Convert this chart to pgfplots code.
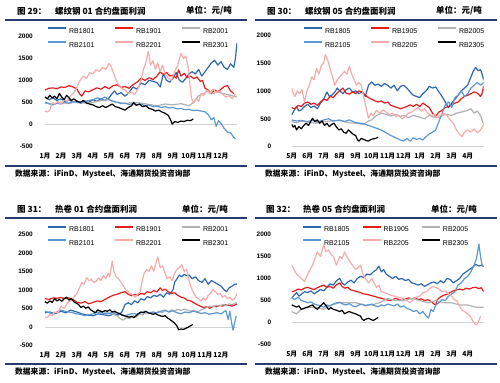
\documentclass[border=0pt]{standalone}
\usepackage{pgfplots}
\pgfplotsset{compat=1.18}
\usepackage{fontspec}
\setmainfont{Liberation Sans}
\newfontfamily\cjk{Noto Sans CJK SC}
\definecolor{cA}{RGB}{46,104,176}
\definecolor{cB}{RGB}{232,28,28}
\definecolor{cC}{RGB}{178,178,178}
\definecolor{cD}{RGB}{92,152,212}
\definecolor{cE}{RGB}{247,172,172}
\definecolor{cF}{RGB}{0,0,0}
\definecolor{navy}{RGB}{36,60,110}
\pgfplotsset{
  panel/.style={scale only axis, xmin=0, xmax=12, clip=true,
    axis line style={draw=none}, major tick length=0pt, xtick={0,...,11},
    yticklabel style={font=\fontsize{6.5}{7}\selectfont\bfseries, anchor=east, inner sep=0pt, xshift=-12bp},
    xticklabel style={font=\cjk\bfseries\fontsize{6.8}{7}\selectfont, anchor=base, inner sep=0pt, yshift=-12bp},
    legend columns=3,
    legend style={draw=none, fill=none, inner sep=0pt, font=\fontsize{7}{8}\selectfont, anchor=north west,
      row sep=6bp, nodes={inner sep=0pt},
      /tikz/every odd column/.style={column sep=2bp},
      /tikz/every even column/.style={column sep=19.7bp}},
    legend image code/.code={\draw[#1, line width=2bp] (0bp,0.35em) -- (18bp,0.35em);},
    every axis plot/.append style={line width=1.2bp, line join=round},
  },
  zero/.style={gray!35, line width=0.6bp, forget plot},
}
\newcommand{\ttl}{\cjk\bfseries\fontsize{8.5}{10}\selectfont}
\newcommand{\src}{\cjk\bfseries\fontsize{7.8}{9}\selectfont}
\begin{document}
\begin{tikzpicture}
\fill[white] (0,0) rectangle (500bp,-383bp);
\useasboundingbox (0,0) rectangle (500bp,-383bp);
% ---------- frames and titles ----------
\foreach \xo/\yo in {0/0, 250/0, 0/198, 250/198}{
  \draw[navy, line width=2bp] (\xo bp+5bp, -\yo bp-20bp) -- (\xo bp+247bp, -\yo bp-20bp);
  \draw[navy, line width=2bp] (\xo bp+5bp, -\yo bp-165.5bp) -- (\xo bp+247bp, -\yo bp-165.5bp);
  \node[anchor=west, inner sep=0pt] at (\xo bp+15bp, -\yo bp-173.5bp) {\src 数据来源：iFinD、Mysteel、海通期货投资咨询部};
}
\node[anchor=west, inner sep=0pt] at (17bp,-11bp) {\ttl 图 29：};
\node[anchor=west, inner sep=0pt] at (55bp,-11bp) {\ttl 螺纹钢 01 合约盘面利润};
\node[anchor=east, inner sep=0pt] at (232bp,-11bp) {\ttl 单位：元/吨};
\node[anchor=west, inner sep=0pt] at (267bp,-11bp) {\ttl 图 30：};
\node[anchor=west, inner sep=0pt] at (305bp,-11bp) {\ttl 螺纹钢 05 合约盘面利润};
\node[anchor=east, inner sep=0pt] at (482bp,-11bp) {\ttl 单位：元/吨};
\node[anchor=west, inner sep=0pt] at (17bp,-209.5bp) {\ttl 图 31：};
\node[anchor=west, inner sep=0pt] at (55bp,-209.5bp) {\ttl 热卷 01 合约盘面利润};
\node[anchor=east, inner sep=0pt] at (228bp,-209.5bp) {\ttl 单位：元/吨};
\node[anchor=west, inner sep=0pt] at (266bp,-209.5bp) {\ttl 图 32：};
\node[anchor=west, inner sep=0pt] at (303bp,-209.5bp) {\ttl 热卷 05 合约盘面利润};
\node[anchor=east, inner sep=0pt] at (477bp,-209.5bp) {\ttl 单位：元/吨};

% ---------- Panel 1 ----------
\begin{axis}[panel, at={(45bp,-146bp)}, anchor=south west, width=192bp, height=109.3bp,
  ymin=-500, ymax=2000, ytick={-500,0,500,1000,1500,2000}, yticklabels={-500,0,500,1000,1500,2000},
  xticklabels={1月,2月,3月,4月,5月,6月,7月,8月,9月,10月,11月,12月},
  legend style={at={(0.0104,1.0888)}}]
\addplot[zero] coordinates {(0,0) (12,0)};
\addplot[cA] coordinates {(0,620) (0.25,560) (0.5,600) (0.75,540) (1,580) (1.25,520) (1.5,560) (1.75,500) (2,530) (2.25,480) (2.5,520) (2.75,500) (3,560) (3.25,520) (3.5,580) (3.75,540) (4,600) (4.2,700) (4.35,760) (4.5,680) (4.75,720) (5,640) (5.25,720) (5.5,850) (5.75,800) (6,940) (6.25,900) (6.5,1000) (6.75,980) (7,950) (7.2,850) (7.4,1150) (7.6,1000) (7.8,960) (8,1050) (8.2,1180) (8.4,1000) (8.6,960) (8.8,1050) (9,1150) (9.2,1200) (9.4,1150) (9.6,1250) (9.8,1100) (10,1200) (10.2,1300) (10.4,1400) (10.6,1460) (10.8,1350) (11,1430) (11.2,1300) (11.4,1250) (11.6,1380) (11.8,1300) (11.9,1500) (12,1860)};
\addplot[cB] coordinates {(0,780) (0.25,820) (0.5,830) (0.75,810) (1,850) (1.25,840) (1.5,880) (1.75,850) (2,800) (2.15,700) (2.3,640) (2.5,760) (2.75,740) (3,790) (3.25,830) (3.5,800) (3.75,860) (4,810) (4.25,880) (4.5,900) (4.75,840) (5,860) (5.25,820) (5.5,900) (5.75,960) (6,1050) (6.25,1000) (6.5,1060) (6.75,1020) (7,1100) (7.2,1200) (7.4,1130) (7.6,1180) (7.8,1100) (8,1120) (8.2,1050) (8.35,1240) (8.5,1100) (8.7,1160) (8.9,1060) (9.1,1100) (9.3,1040) (9.5,1080) (9.7,980) (9.85,1000) (10,820) (10.2,780) (10.4,700) (10.6,780) (10.8,740) (11,800) (11.2,860) (11.4,880) (11.6,760) (11.8,700)};
\addplot[cC] coordinates {(0,480) (0.5,450) (1,500) (1.5,470) (2,520) (2.5,480) (3,500) (3.5,540) (4,560) (4.5,500) (5,470) (5.5,500) (6,480) (6.5,450) (7,420) (7.5,460) (8,440) (8.5,470) (9,420) (9.3,500) (9.6,650) (9.9,700) (10.2,760) (10.5,700) (10.8,740) (11.1,700) (11.4,680) (11.7,650) (12,620)};
\addplot[cD] coordinates {(0,500) (0.25,470) (0.5,440) (0.75,480) (1,460) (1.25,500) (1.5,480) (1.75,520) (2,500) (2.25,480) (2.5,520) (2.75,540) (3,560) (3.25,600) (3.5,580) (3.75,620) (4,560) (4.25,520) (4.5,500) (4.75,470) (5,480) (5.25,450) (5.5,470) (5.75,440) (6,460) (6.25,420) (6.5,440) (6.75,400) (7,410) (7.25,380) (7.5,400) (7.75,370) (8,380) (8.25,350) (8.5,360) (8.75,330) (9,340) (9.25,310) (9.5,320) (9.75,300) (10,280) (10.2,220) (10.4,100) (10.55,150) (10.7,-50) (10.85,80) (11,20) (11.2,-100) (11.4,-180) (11.6,-200) (11.8,-300) (11.9,-340)};
\addplot[cE] coordinates {(0,300) (0.15,280) (0.3,320) (0.45,500) (0.6,460) (0.8,520) (1,450) (1.2,560) (1.4,520) (1.6,650) (1.8,720) (2,850) (2.2,1010) (2.4,1100) (2.6,1050) (2.8,1180) (3,1150) (3.2,1250) (3.4,1200) (3.6,1300) (3.8,1250) (4,1390) (4.15,1300) (4.3,1150) (4.45,1000) (4.6,900) (4.8,820) (5,780) (5.2,700) (5.4,740) (5.6,680) (5.8,800) (6,1000) (6.15,1250) (6.3,1400) (6.45,1660) (6.6,1350) (6.75,1450) (6.9,1250) (7.05,1400) (7.2,1200) (7.35,1350) (7.5,1150) (7.7,1050) (7.9,1000) (8.1,1200) (8.3,1350) (8.5,1620) (8.65,1500) (8.8,1560) (8.95,1300) (9.05,950) (9.15,600) (9.3,480) (9.45,600) (9.6,520) (9.75,700) (9.9,650) (10.1,780) (10.3,700) (10.5,800) (10.7,720) (10.9,760) (11.1,680) (11.3,620) (11.5,650) (11.7,580) (11.9,700)};
\addplot[cF] coordinates {(0,620) (0.15,580) (0.3,660) (0.45,600) (0.6,640) (0.75,580) (0.9,700) (1.05,620) (1.2,560) (1.35,660) (1.5,600) (1.65,540) (1.8,580) (2,520) (2.2,500) (2.4,540) (2.6,480) (2.8,460) (3,440) (3.2,400) (3.4,380) (3.6,420) (3.8,380) (4,420) (4.2,460) (4.4,400) (4.6,380) (4.8,350) (5,320) (5.2,380) (5.4,420) (5.55,490) (5.7,430) (5.9,460) (6.1,400) (6.3,420) (6.5,360) (6.7,340) (6.9,300) (7.1,320) (7.3,280) (7.5,250) (7.7,200) (7.85,100) (7.95,0) (8.1,60) (8.3,40) (8.5,70) (8.7,60) (8.9,90) (9.1,80) (9.27,120)};
\legend{RB1801,RB1901,RB2001,RB2101,RB2201,RB2301}
\end{axis}

% ---------- Panel 2 ----------
\begin{axis}[panel, at={(291.7bp,-146.7bp)}, anchor=south west, width=192bp, height=111.7bp,
  ymin=0, ymax=2000, ytick={0,500,1000,1500,2000}, yticklabels={0,500,1000,1500,2000},
  yticklabel style={xshift=-8.4bp},
  xticklabels={5月,6月,7月,8月,9月,10月,11月,12月,1月,2月,3月,4月},
  legend style={at={(0.0589,1.0716)}}]
\addplot[zero] coordinates {(0,0) (12,0)};
\addplot[cA] coordinates {(0,570) (0.15,650) (0.3,720) (0.45,640) (0.6,660) (0.8,720) (1,760) (1.2,700) (1.4,730) (1.6,680) (1.8,780) (2,850) (2.2,980) (2.35,900) (2.5,920) (2.7,980) (2.85,1050) (3,1000) (3.2,950) (3.4,1020) (3.6,1050) (3.8,980) (4,1000) (4.2,950) (4.4,980) (4.6,900) (4.8,1100) (5,1160) (5.2,1100) (5.4,1120) (5.6,1080) (5.8,1130) (6,1100) (6.2,1050) (6.4,1100) (6.6,1000) (6.8,1080) (7,1100) (7.2,1050) (7.4,980) (7.6,920) (7.8,900) (8,880) (8.2,950) (8.4,1000) (8.6,1080) (8.8,1050) (9,1070) (9.2,980) (9.4,900) (9.6,800) (9.8,700) (10,780) (10.2,850) (10.4,920) (10.6,1000) (10.8,1050) (11,1100) (11.2,1250) (11.35,1350) (11.5,1420) (11.65,1360) (11.8,1380) (11.9,1300) (12,1190)};
\addplot[cB] coordinates {(0,700) (0.2,680) (0.4,740) (0.6,720) (0.8,780) (1,800) (1.2,760) (1.4,780) (1.6,740) (1.8,800) (2,850) (2.2,830) (2.4,900) (2.6,880) (2.8,950) (3,1000) (3.2,1050) (3.4,960) (3.6,940) (3.8,980) (4,950) (4.2,1000) (4.4,980) (4.6,920) (4.8,880) (5,850) (5.2,820) (5.4,800) (5.6,820) (5.8,780) (6,800) (6.2,740) (6.4,720) (6.6,700) (6.8,680) (7,700) (7.2,720) (7.4,750) (7.6,720) (7.8,760) (8,720) (8.2,780) (8.4,740) (8.6,700) (8.8,600) (9,540) (9.2,620) (9.4,650) (9.6,700) (9.8,720) (10,750) (10.2,780) (10.4,800) (10.6,860) (10.8,900) (11,920) (11.2,950) (11.4,980) (11.6,960) (11.8,900) (11.9,950) (12,1090)};
\addplot[cC] coordinates {(0,450) (0.3,430) (0.6,460) (1,440) (1.5,420) (2,450) (2.5,460) (3,480) (3.5,430) (4,420) (4.5,400) (4.8,460) (5,480) (5.3,560) (5.6,600) (5.9,580) (6.2,550) (6.5,580) (6.8,540) (7,560) (7.3,520) (7.6,560) (8,530) (8.3,500) (8.6,560) (9,520) (9.3,540) (9.6,580) (10,560) (10.3,600) (10.6,620) (11,650) (11.2,680) (11.4,600) (11.6,640) (11.8,560) (12,390)};
\addplot[cD] coordinates {(0,480) (0.3,460) (0.6,470) (1,450) (1.3,470) (1.6,440) (2,480) (2.3,500) (2.6,460) (3,470) (3.3,450) (3.6,480) (4,430) (4.3,420) (4.6,400) (5,360) (5.3,330) (5.6,300) (5.9,250) (6.2,200) (6.5,160) (6.8,120) (7,100) (7.2,150) (7.4,100) (7.6,160) (7.8,130) (8,150) (8.2,120) (8.4,180) (8.6,230) (8.8,260) (9,300) (9.2,450) (9.4,600) (9.6,750) (9.8,800) (10,700) (10.2,880) (10.4,920) (10.6,1000) (10.8,900) (11,950) (11.2,1050) (11.4,1100) (11.6,1150) (11.8,1100) (12,1150)};
\addplot[cE] coordinates {(0,1050) (0.1,950) (0.2,900) (0.35,1000) (0.5,950) (0.65,1020) (0.8,800) (0.95,1000) (1.1,1100) (1.25,1250) (1.4,1200) (1.55,1400) (1.7,1300) (1.85,1450) (2,1500) (2.1,1650) (2.25,1550) (2.4,1400) (2.55,1250) (2.7,1100) (2.85,1200) (3,1250) (3.15,1300) (3.3,1350) (3.45,1300) (3.6,1440) (3.75,1300) (3.9,1200) (4.05,1100) (4.2,1150) (4.35,1100) (4.5,900) (4.65,700) (4.8,510) (4.95,600) (5.1,550) (5.3,650) (5.5,600) (5.7,660) (5.9,620) (6.1,580) (6.3,600) (6.5,540) (6.7,560) (6.9,500) (7.1,540) (7.3,600) (7.5,620) (7.7,660) (7.9,700) (8.1,640) (8.3,680) (8.5,600) (8.7,560) (8.9,580) (9.1,520) (9.3,560) (9.5,600) (9.7,560) (9.9,480) (10.1,420) (10.3,300) (10.5,220) (10.65,180) (10.8,260) (11,300) (11.2,260) (11.4,320) (11.6,250) (11.8,300) (12,400)};
\addplot[cF] coordinates {(0,400) (0.1,350) (0.2,380) (0.3,300) (0.45,360) (0.6,320) (0.75,380) (0.9,420) (1.05,380) (1.2,460) (1.3,510) (1.45,450) (1.6,480) (1.75,420) (1.9,460) (2.05,380) (2.2,420) (2.35,360) (2.5,400) (2.65,420) (2.8,350) (2.95,300) (3.1,320) (3.25,260) (3.4,240) (3.55,300) (3.7,260) (3.85,220) (4,200) (4.1,130) (4.2,100) (4.35,150) (4.5,130) (4.65,110) (4.8,100) (4.95,130) (5.1,140) (5.25,150) (5.4,170)};
\legend{RB1805,RB1905,RB2005,RB2105,RB2205,RB2305}
\end{axis}

% ---------- Panel 3 ----------
\begin{axis}[panel, at={(45bp,-345.3bp)}, anchor=south west, width=192bp, height=111bp,
  ymin=-500, ymax=2500, ytick={-500,0,500,1000,1500,2000,2500}, yticklabels={-500,0,500,1000,1500,2000,2500},
  xticklabels={1月,2月,3月,4月,5月,6月,7月,8月,9月,10月,11月,12月},
  legend style={at={(0.0104,1.081)}}]
\addplot[zero] coordinates {(0,0) (12,0)};
\addplot[cA] coordinates {(0,380) (0.3,400) (0.6,350) (1,420) (1.3,380) (1.6,450) (2,400) (2.3,350) (2.6,320) (3,300) (3.3,350) (3.6,330) (4,300) (4.3,350) (4.6,320) (4.8,400) (5,600) (5.2,650) (5.4,600) (5.6,700) (5.8,650) (6,760) (6.2,720) (6.4,820) (6.6,780) (6.8,850) (7,820) (7.2,880) (7.4,800) (7.6,920) (7.8,880) (8,1000) (8.1,1200) (8.25,1300) (8.4,1400) (8.55,1350) (8.7,1420) (8.85,1380) (9,1400) (9.2,1300) (9.4,1350) (9.6,1250) (9.8,1200) (10,1300) (10.2,1150) (10.4,1250) (10.6,1200) (10.8,1150) (11,1100) (11.2,1000) (11.35,950) (11.5,1050) (11.7,1100) (11.85,1150) (12,1160)};
\addplot[cB] coordinates {(0,760) (0.25,740) (0.5,780) (0.75,770) (1,790) (1.25,760) (1.5,780) (1.75,740) (2,660) (2.25,640) (2.5,680) (2.75,620) (3,660) (3.25,700) (3.5,680) (3.75,740) (4,800) (4.25,850) (4.5,880) (4.75,920) (5,950) (5.2,880) (5.4,840) (5.6,870) (5.8,850) (6,900) (6.2,880) (6.4,950) (6.6,920) (6.8,980) (7,940) (7.2,1050) (7.35,980) (7.5,1020) (7.7,950) (7.9,900) (8.1,920) (8.3,850) (8.5,800) (8.7,780) (8.9,720) (9.1,700) (9.3,650) (9.5,600) (9.7,560) (9.9,520) (10.1,540) (10.3,500) (10.5,560) (10.7,540) (10.9,580) (11.1,560) (11.3,600) (11.5,580) (11.7,560) (11.9,600) (12,620)};
\addplot[cC] coordinates {(3.3,450) (3.6,420) (3.9,380) (4.2,350) (4.5,300) (4.7,220) (4.9,180) (5.1,250) (5.3,220) (5.5,300) (5.7,260) (5.9,350) (6.1,320) (6.3,380) (6.5,360) (6.7,400) (6.9,350) (7.1,420) (7.3,380) (7.5,440) (7.7,400) (7.9,460) (8.1,430) (8.3,470) (8.5,440) (8.7,480) (8.9,450) (9.1,420) (9.3,450) (9.5,400) (9.7,440) (9.9,480) (10.1,520) (10.3,560) (10.5,540) (10.7,580) (10.9,560) (11.1,600) (11.3,580) (11.5,620) (11.7,600) (11.9,640) (12,660)};
\addplot[cD] coordinates {(0,420) (0.25,380) (0.5,350) (0.75,400) (1,450) (1.25,420) (1.5,400) (1.75,380) (2,350) (2.25,330) (2.5,300) (2.75,330) (3,350) (3.25,400) (3.5,380) (3.75,350) (4,360) (4.25,400) (4.5,380) (4.75,330) (5,300) (5.25,330) (5.5,360) (5.75,340) (6,380) (6.25,420) (6.5,360) (6.75,400) (7,380) (7.25,420) (7.5,450) (7.75,400) (8,430) (8.25,380) (8.5,350) (8.75,400) (9,380) (9.25,420) (9.5,400) (9.75,360) (10,380) (10.25,340) (10.5,360) (10.75,380) (11,350) (11.3,440) (11.45,200) (11.55,420) (11.65,150) (11.75,-90) (11.85,100) (11.95,300)};
\addplot[cE] coordinates {(0,270) (0.15,250) (0.3,330) (0.45,300) (0.6,400) (0.8,380) (1,550) (1.2,500) (1.4,650) (1.6,700) (1.8,800) (2,900) (2.15,1050) (2.3,1200) (2.45,1150) (2.6,1330) (2.75,1250) (2.9,1280) (3.05,1200) (3.2,1230) (3.35,1320) (3.5,1250) (3.65,1380) (3.8,1300) (3.95,1450) (4.05,1350) (4.2,1780) (4.3,1500) (4.45,1350) (4.6,1300) (4.75,1200) (4.9,1100) (5.05,1000) (5.2,950) (5.35,900) (5.5,850) (5.65,800) (5.8,880) (5.95,950) (6.05,1200) (6.2,1450) (6.35,1550) (6.5,1500) (6.65,1650) (6.8,1500) (6.95,1750) (7.05,1890) (7.2,1600) (7.35,1650) (7.5,1450) (7.65,1300) (7.8,1350) (7.95,1250) (8.1,1450) (8.25,1550) (8.4,1600) (8.55,1680) (8.7,1500) (8.85,1550) (9,1250) (9.15,1050) (9.3,900) (9.45,800) (9.6,760) (9.75,700) (9.9,780) (10.05,720) (10.2,850) (10.35,900) (10.5,1000) (10.65,950) (10.8,880) (10.95,900) (11.1,800) (11.25,850) (11.4,760) (11.55,800) (11.7,720) (11.85,760) (12,900)};
\addplot[cF] coordinates {(0,680) (0.15,640) (0.3,700) (0.45,660) (0.6,760) (0.75,700) (0.9,740) (1.05,690) (1.2,760) (1.35,800) (1.5,720) (1.65,760) (1.8,680) (1.95,640) (2.1,600) (2.25,520) (2.4,560) (2.55,500) (2.7,540) (2.85,460) (3,420) (3.15,380) (3.3,460) (3.45,420) (3.6,400) (3.75,440) (3.9,420) (4.05,460) (4.2,400) (4.35,420) (4.5,380) (4.65,360) (4.8,320) (4.95,300) (5.1,280) (5.25,260) (5.4,280) (5.55,250) (5.7,300) (5.85,360) (6,400) (6.15,380) (6.3,420) (6.45,380) (6.6,360) (6.75,340) (6.9,360) (7.05,320) (7.2,300) (7.35,280) (7.5,300) (7.65,240) (7.8,200) (7.95,150) (8.1,100) (8.25,20) (8.35,-80) (8.5,-60) (8.65,-70) (8.8,-40) (8.95,-10) (9.1,30) (9.23,60)};
\legend{RB1801,RB1901,RB2001,RB2101,RB2201,RB2301}
\end{axis}

% ---------- Panel 4 ----------
\begin{axis}[panel, at={(291.7bp,-344.7bp)}, anchor=south west, width=192bp, height=110.4bp,
  ymin=-500, ymax=2000, ytick={-500,0,500,1000,1500,2000}, yticklabels={-500,0,500,1000,1500,2000},
  yticklabel style={xshift=-8.4bp},
  xticklabels={5月,6月,7月,8月,9月,10月,11月,12月,1月,2月,3月,4月},
  legend style={at={(0.0536,1.0815)}, /tikz/every even column/.style={column sep=12.2bp}}]
\addplot[zero] coordinates {(0,0) (12,0)};
\addplot[cA] coordinates {(0,550) (0.15,620) (0.3,680) (0.45,600) (0.6,640) (0.8,700) (1,680) (1.2,720) (1.4,650) (1.6,700) (1.8,750) (2,720) (2.2,800) (2.4,880) (2.6,850) (2.8,950) (3,1000) (3.15,900) (3.3,850) (3.5,920) (3.7,960) (3.9,900) (4.1,1000) (4.3,1050) (4.5,1020) (4.7,1100) (4.9,1080) (5.1,1150) (5.3,1200) (5.45,1280) (5.6,1150) (5.75,1200) (5.9,1100) (6.1,1050) (6.3,1000) (6.5,1050) (6.7,980) (6.9,1000) (7.1,950) (7.3,980) (7.5,900) (7.7,880) (7.9,850) (8.1,880) (8.3,820) (8.5,860) (8.7,900) (8.9,920) (9.1,880) (9.3,950) (9.5,900) (9.7,1000) (9.9,980) (10.1,900) (10.3,950) (10.5,1000) (10.7,1100) (10.9,1150) (11.1,1200) (11.3,1250) (11.5,1320) (11.7,1280) (11.85,1300) (12,1270)};
\addplot[cB] coordinates {(0,700) (0.2,720) (0.4,760) (0.6,740) (0.8,780) (1,800) (1.2,770) (1.4,750) (1.6,790) (1.8,820) (2,850) (2.2,800) (2.4,820) (2.6,780) (2.8,860) (3,900) (3.15,820) (3.3,780) (3.5,800) (3.7,740) (3.9,720) (4.1,700) (4.3,680) (4.5,650) (4.7,640) (4.9,620) (5.1,600) (5.3,580) (5.5,560) (5.7,540) (5.9,520) (6.1,500) (6.3,520) (6.5,550) (6.7,520) (6.9,500) (7.1,530) (7.3,560) (7.5,540) (7.7,560) (7.9,520) (8.1,540) (8.3,500) (8.5,520) (8.7,480) (8.9,420) (9,400) (9.1,520) (9.3,580) (9.5,620) (9.7,640) (9.9,680) (10.1,720) (10.3,740) (10.5,760) (10.7,740) (10.9,780) (11.1,760) (11.3,790) (11.5,800) (11.7,770) (11.85,790) (12,700)};
\addplot[cC] coordinates {(0,250) (0.3,200) (0.6,300) (1,350) (1.5,350) (2,300) (2.5,400) (3,450) (3.5,450) (4,450) (4.5,400) (5,400) (5.5,450) (6,550) (6.5,500) (7,500) (7.5,550) (8,500) (8.5,450) (9,500) (9.5,450) (10,450) (10.5,400) (11,400) (11.5,350) (12,350)};
\addplot[cD] coordinates {(0,560) (0.2,520) (0.4,580) (0.6,500) (0.8,480) (1,450) (1.2,470) (1.4,420) (1.6,400) (1.8,380) (2,350) (2.2,400) (2.4,380) (2.6,420) (2.8,450) (3,460) (3.2,420) (3.4,400) (3.6,430) (3.8,380) (4,360) (4.2,400) (4.4,420) (4.6,380) (4.8,400) (5,420) (5.2,380) (5.4,360) (5.6,400) (5.8,380) (6,420) (6.2,400) (6.4,380) (6.6,420) (6.8,350) (7,380) (7.2,320) (7.4,300) (7.6,250) (7.8,280) (8,200) (8.2,250) (8.4,150) (8.55,100) (8.7,300) (8.85,250) (9,400) (9.2,450) (9.4,520) (9.6,500) (9.8,600) (10,650) (10.2,700) (10.4,850) (10.6,900) (10.8,1000) (11,1050) (11.2,1150) (11.4,1300) (11.55,1450) (11.7,1780) (11.8,1500) (11.9,1300) (12,1270)};
\addplot[cE] coordinates {(0,1300) (0.15,1200) (0.3,1100) (0.45,1050) (0.6,1000) (0.8,930) (1,1100) (1.15,1200) (1.3,1300) (1.45,1450) (1.6,1600) (1.8,1500) (2,1760) (2.15,1600) (2.3,1650) (2.45,1550) (2.6,1500) (2.8,1300) (3,1500) (3.15,1450) (3.3,1600) (3.45,1500) (3.6,1400) (3.8,1300) (4,1200) (4.15,1250) (4.3,1300) (4.45,1100) (4.6,1000) (4.8,900) (5,1000) (5.15,900) (5.3,800) (5.45,850) (5.6,700) (5.8,680) (6,650) (6.2,620) (6.4,600) (6.6,580) (6.8,560) (7,550) (7.2,500) (7.4,450) (7.6,520) (7.8,580) (8,600) (8.2,680) (8.4,700) (8.6,760) (8.8,820) (9,800) (9.2,760) (9.4,700) (9.6,720) (9.8,650) (10,600) (10.15,520) (10.3,500) (10.45,400) (10.6,300) (10.8,250) (11,200) (11.15,150) (11.3,50) (11.45,-30) (11.55,-50) (11.65,0) (11.8,150)};
\addplot[cF] coordinates {(0,400) (0.15,380) (0.3,350) (0.45,380) (0.6,300) (0.8,330) (1,350) (1.15,380) (1.3,400) (1.45,340) (1.6,300) (1.8,380) (2,450) (2.15,380) (2.3,300) (2.45,340) (2.6,300) (2.8,280) (3,250) (3.15,280) (3.3,200) (3.45,230) (3.6,250) (3.8,220) (4,200) (4.15,170) (4.3,150) (4.4,80) (4.5,50) (4.65,80) (4.8,100) (4.95,70) (5.1,50) (5.25,80) (5.4,120)};
\legend{RB1805,RB1905,RB2005,RB2105,RB2205,RB2305}
\end{axis}
\end{tikzpicture}
\end{document}
